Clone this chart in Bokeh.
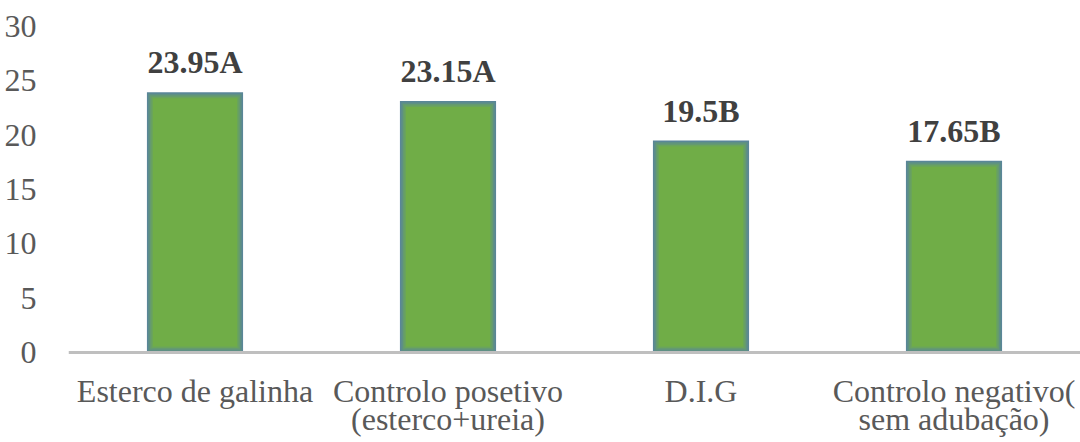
from bokeh.plotting import figure
from bokeh.models import ColumnDataSource, LabelSet, Range1d, FactorRange, Span
from bokeh.embed import file_html
from bokeh.resources import INLINE

categories = ["Esterco de galinha", "Controlo posetivo (esterco+ureia)", "D.I.G", "Controlo negativo( sem adubação)"]
label_line1 = ["Esterco de galinha", "Controlo posetivo", "D.I.G", "Controlo negativo("]
label_line2 = ["", "(esterco+ureia)", "", "sem adubação)"]
values = [23.95, 23.15, 19.5, 17.65]
letters = ["A", "A", "B", "B"]
y_ticks = [0, 5, 10, 15, 20, 25, 30]

FONT = "Liberation Serif"
W, H = 1080, 442
LEFT, TOP = 68, 26
ZERO_PX = 352            # pixel row of the value axis' zero
frame_w = W - LEFT
px_x = len(categories) / frame_w
px_y = 30 / (ZERO_PX - TOP)
y_start = -(H - ZERO_PX) * px_y

p = figure(width=W, height=H, x_range=FactorRange(*categories), y_range=Range1d(y_start, 30),
           output_backend="svg", toolbar_location=None,
           min_border_left=LEFT, min_border_right=0, min_border_top=TOP, min_border_bottom=0)
p.outline_line_color = None
p.xgrid.grid_line_color = None
p.ygrid.grid_line_color = None
p.background_fill_color = "white"
p.border_fill_color = "white"
p.xaxis.visible = False

# soft-edged bars (layered insets)
bar_w = 0.38
layers = [(0, "#5A8698"), (1.5, "#5E9084"), (3, "#649A70"), (4.5, "#6AA45C"), (6, "#70AD47")]
for inset, col in layers:
    src = ColumnDataSource(dict(x=categories, top=[v - inset * px_y for v in values]))
    p.vbar(x="x", top="top", bottom=inset * px_y, width=bar_w - 2 * inset * px_x, source=src,
           fill_color=col, line_color=None)

# category axis line
p.add_layout(Span(location=0, dimension="width", line_color="#BFBFBF", line_width=3))

labels = [f"{v:g}{l}" for v, l in zip(values, letters)]
lsrc = ColumnDataSource(dict(x=categories, y=values, t=labels))
p.add_layout(LabelSet(x="x", y="y", text="t", source=lsrc, y_offset=19, text_align="center",
                      text_baseline="alphabetic", text_font=FONT, text_font_size="32px",
                      text_font_style="bold", text_color="#404040"))

# category labels (two lines) below the axis
xsrc = ColumnDataSource(dict(x=categories, y=[0] * len(categories), l1=label_line1, l2=label_line2))
for tcol, off in (("l1", -49), ("l2", -77)):
    p.add_layout(LabelSet(x="x", y="y", text=tcol, source=xsrc, y_offset=off, text_align="center",
                          text_baseline="alphabetic", text_font=FONT, text_font_size="32px",
                          text_color="#595959"))

p.yaxis.ticker = y_ticks
p.yaxis.axis_line_color = None
p.yaxis.major_tick_line_color = None
p.yaxis.minor_tick_line_color = None
p.yaxis.major_label_standoff = 26
p.yaxis.major_label_text_font = FONT
p.yaxis.major_label_text_font_size = "32px"
p.yaxis.major_label_text_color = "#595959"

open("out.html", "w").write(file_html(p, INLINE))
